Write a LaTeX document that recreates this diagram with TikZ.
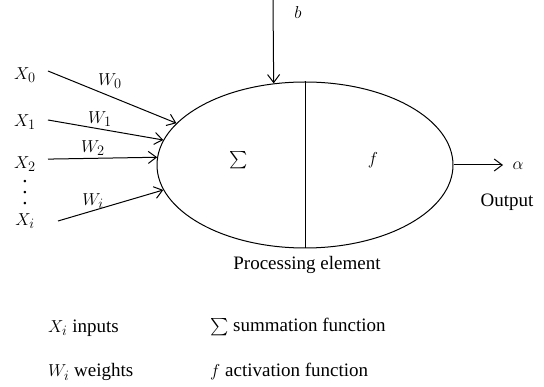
\documentclass[tikz,border=0pt]{standalone}
\usepackage{amsmath}
\usepackage{fontspec}
\setmainfont{Liberation Serif}
\usetikzlibrary{shapes.geometric,arrows.meta}
\newcommand\tallvdots{\vbox{\baselineskip11pt\lineskiplimit0pt\hbox{.}\hbox{.}\hbox{.}}}
\begin{document}
\begin{tikzpicture}[x=1pt,y=-1pt,
  every node/.style={font=\fontsize{19}{22}\selectfont, inner sep=0pt},
  conn/.style={line width=1pt,-{Straight Barb[length=8pt,width=12pt,line width=1pt]}},
  pe/.style={draw, line width=1pt, ellipse, minimum width=296pt, minimum height=166pt, inner sep=0pt},
  leg/.style={anchor=west}]
\useasboundingbox (0,0) rectangle (544,387);
% processing element
\node[pe] (e) at (305,165) {};
\draw[line width=1pt] (e.north) -- (e.south);
\node (sum) at (239,160) {$\sum$};
\node (f) at (373,160) {$f$};
\node (pel) at (307,265) {Processing element};
% inputs
\node (x0) at (25,75) {$X_0$};
\node (x1) at (25,122) {$X_1$};
\node (x2) at (25,164) {$X_2$};
\node[font=\fontsize{21}{22}\selectfont] (dots) at (25,193) {\tallvdots};
\node (xi) at (25,221) {$X_i$};
\coordinate (s0) at (48,71);
\coordinate (s1) at (48,120);
\coordinate (s2) at (48,159.1);
\coordinate (si) at (58,221);
\draw[conn] (s0) -- (e.162);
\draw[conn] (s1) -- (e.170.5);
\draw[conn] (s2) -- (e.177.7);
\draw[conn] (si) -- (e.190.3);
\node (w0) at (110,81) {$W_0$};
\node (w1) at (100,119) {$W_1$};
\node (w2) at (93,148) {$W_2$};
\node (wi) at (93,201) {$W_i$};
% bias
\coordinate (bs) at (273,0);
\draw[conn] (bs) -- (e.111.6);
\node (b) at (298,13) {$b$};
% output
\coordinate (oe) at (503,165);
\draw[conn] (e.east) -- (oe);
\node (alpha) at (518,166) {$\alpha$};
\node (out) at (507,202) {Output};
% legend
\node[leg] (l1) at (48,328) {$X_i$ inputs};
\node[leg] (l2) at (48,372) {$W_i$ weights};
\node[leg] (l3) at (210,327) {$\sum$ summation function};
\node[leg] (l4) at (210,371) {$f$ activation function};
\end{tikzpicture}
\end{document}
